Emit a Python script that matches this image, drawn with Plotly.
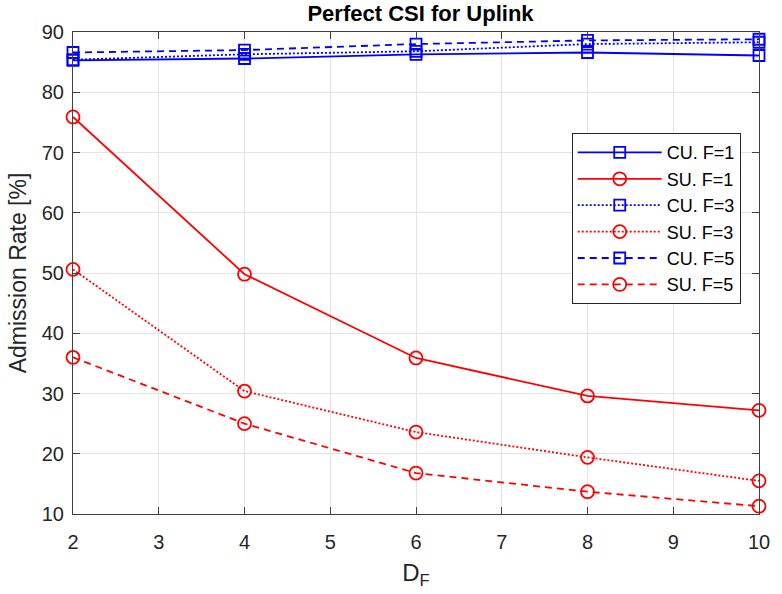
import plotly.graph_objects as go

# Diversity factor D_F on the x axis
d_f = [2, 4, 6, 8, 10]

# Admission rate [%] for centralized (CU) and single-user (SU) schemes
cu_f1 = [85.3, 85.6, 86.3, 86.6, 86.1]
su_f1 = [75.9, 49.8, 35.9, 29.6, 27.2]
cu_f3 = [85.4, 86.3, 86.8, 88.0, 88.3]
su_f3 = [50.6, 30.4, 23.6, 19.4, 15.5]
cu_f5 = [86.6, 87.0, 88.0, 88.6, 88.8]
su_f5 = [36.0, 25.0, 16.8, 13.7, 11.3]

series = [
    ("CU. F=1", cu_f1, "blue", "solid", "square-open"),
    ("SU. F=1", su_f1, "red", "solid", "circle-open"),
    ("CU. F=3", cu_f3, "blue", "2px,2px", "square-open"),
    ("SU. F=3", su_f3, "red", "2px,2px", "circle-open"),
    ("CU. F=5", cu_f5, "blue", "7px,5px", "square-open"),
    ("SU. F=5", su_f5, "red", "7px,5px", "circle-open"),
]

FONT = "Liberation Sans, Arial, sans-serif"

fig = go.Figure()
for name, vals, color, dash, symbol in series:
    fig.add_trace(go.Scatter(
        x=d_f, y=vals, name=name, mode="lines+markers",
        line=dict(color=color, width=1.8, dash=dash),
        marker=dict(symbol=symbol, size=13 if symbol.startswith("circle") else 11,
                    color=color, line=dict(color=color, width=1.8)),
        cliponaxis=False,
    ))

axis_common = dict(
    showgrid=True, gridcolor="#e3e3e3", gridwidth=1,
    showline=True, linecolor="#404040", linewidth=1, mirror="ticks",
    ticks="inside", ticklen=7, tickcolor="#404040",
    tickfont=dict(family=FONT, size=20, color="#262626"),
    zeroline=False,
)

fig.update_layout(
    width=782, height=594,
    margin=dict(l=73, r=14, t=32, b=78),
    paper_bgcolor="white", plot_bgcolor="white",
    title=dict(text="<b>Perfect CSI for Uplink</b>", x=(73 + 768) / 2 / 782, xanchor="center",
               y=1 - 13 / 594, yanchor="middle",
               font=dict(family=FONT, size=22, color="black")),
    xaxis=dict(range=[2, 10], tickmode="linear", tick0=2, dtick=1, ticklabelstandoff=10,
               title=dict(text="D<sub>F</sub>", standoff=12,
                          font=dict(family=FONT, size=24, color="#262626")),
               **axis_common),
    yaxis=dict(range=[10, 90], tickmode="linear", tick0=10, dtick=10, ticklabelstandoff=4,
               title=dict(text="Admission Rate [%]", standoff=8,
                          font=dict(family=FONT, size=23, color="#262626")),
               **axis_common),
    legend=dict(x=0.727, y=0.79, xanchor="left", yanchor="top",
                bgcolor="white", bordercolor="#262626", borderwidth=1,
                font=dict(family=FONT, size=18, color="black"),
                itemwidth=84, tracegroupgap=0, traceorder="normal"),
)

fig.write_html("out.html")
